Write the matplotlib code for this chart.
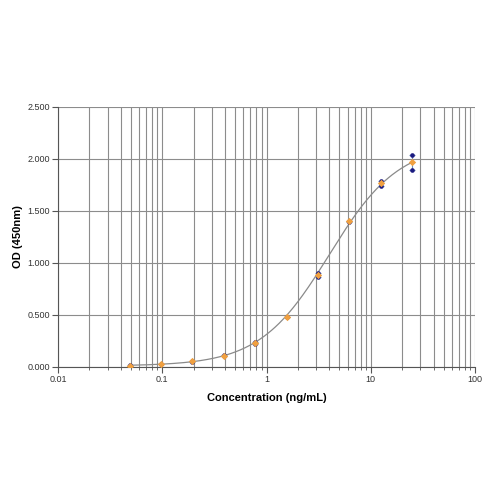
import numpy as np
import matplotlib.pyplot as plt
from matplotlib.ticker import FixedLocator, FuncFormatter, LogLocator, NullFormatter

plt.rcParams['font.family'] = ['Liberation Sans', 'DejaVu Sans']

# standard curve data
conc = [0.049, 0.098, 0.195, 0.39, 0.78, 1.56, 3.125, 6.25, 12.5, 25]
rep1 = [0.016, 0.030, 0.056, 0.112, 0.245, 0.482, 0.905, 1.405, 1.785, 2.040]
rep2 = [0.012, 0.027, 0.052, 0.108, 0.222, 0.476, 0.870, 1.395, 1.745, 1.893]

# 4PL fit parameters
bottom = 0.01
top = 2.15
ec50 = 4.0
hill = 1.3

r1 = np.array(rep1)
r2 = np.array(rep2)
mean = (r1 + r2) / 2
err = np.abs(r1 - r2) / 2

fig = plt.figure(figsize=(5, 5), dpi=100)
ax = fig.add_axes([0.116, 0.266, 0.834, 0.52])

xs = np.logspace(np.log10(conc[0]), np.log10(conc[-1]), 300)
ys = top + (bottom - top) / (1 + (xs / ec50) ** hill)
ax.plot(xs, ys, color='#8a8a8a', lw=0.9, zorder=3)

ax.errorbar(conc, mean, yerr=err, fmt='none', ecolor='#6f8fb8', elinewidth=0.8,
            capsize=2.5, capthick=0.8, zorder=4)
ax.scatter(conc, rep1, s=11, color='#1a1a80', zorder=5, lw=0)
ax.scatter(conc, rep2, s=11, color='#1a1a80', zorder=5, lw=0)
ax.scatter(conc, mean, s=14, marker='D', color='#f0a040', zorder=6, lw=0)

ax.set_xscale('log')
ax.set_xlim(0.01, 100)
ax.set_ylim(0, 2.5)
ax.yaxis.set_major_locator(FixedLocator([0, 0.5, 1.0, 1.5, 2.0, 2.5]))
ax.yaxis.set_major_formatter(FuncFormatter(lambda v, p: '%.3f' % v))
ax.xaxis.set_major_locator(LogLocator(base=10, numticks=10))
ax.xaxis.set_minor_locator(LogLocator(base=10, subs=np.arange(2, 10), numticks=10))
ax.xaxis.set_minor_formatter(NullFormatter())
ax.xaxis.set_major_formatter(FuncFormatter(lambda v, p: '%g' % v))

ax.grid(True, which='both', axis='x', color='#8c8c8c', lw=0.8)
ax.grid(True, which='major', axis='y', color='#8c8c8c', lw=0.8)
ax.set_axisbelow(True)

for s in ['top', 'right']:
    ax.spines[s].set_visible(False)
for s in ['left', 'bottom']:
    ax.spines[s].set_color('#555555')
    ax.spines[s].set_linewidth(0.8)

ax.tick_params(axis='both', which='major', direction='out', length=4, width=0.8,
               color='#555555', labelsize=6.5, labelcolor='#333333', pad=2)
ax.tick_params(axis='x', which='minor', direction='out', length=2.5, width=0.6, color='#555555')

ax.set_xlabel('Concentration (ng/mL)', fontsize=8, fontweight='bold', labelpad=6)
ax.set_ylabel('OD (450nm)', fontsize=8, fontweight='bold')
ax.yaxis.set_label_coords(-0.085, 0.5)

fig.savefig('out.png', dpi=100)
